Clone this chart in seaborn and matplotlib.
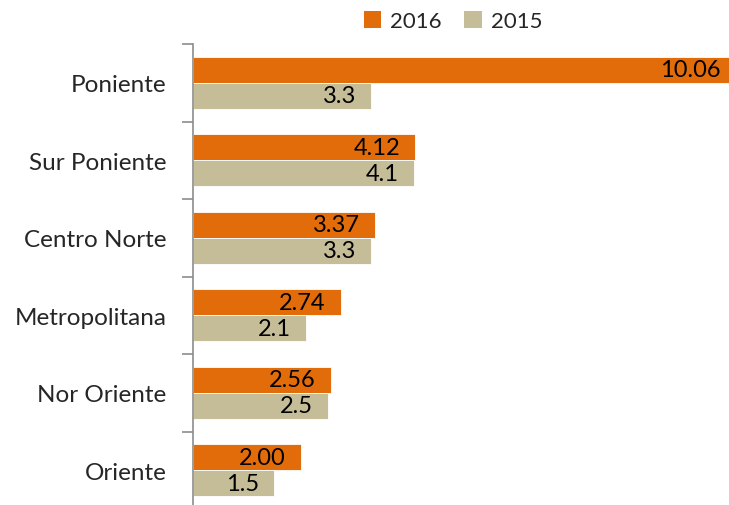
import matplotlib
matplotlib.use("Agg")
import matplotlib.pyplot as plt
import seaborn as sns
import pandas as pd
from matplotlib.ticker import FixedLocator
from matplotlib.patches import Patch

categories = ["Poniente", "Sur Poniente", "Centro Norte", "Metropolitana", "Nor Oriente", "Oriente"]
values_2016 = [10.06, 4.12, 3.37, 2.74, 2.56, 2.00]
values_2015 = [3.3, 4.1, 3.3, 2.1, 2.5, 1.5]
labels_2016 = ["10.06", "4.12", "3.37", "2.74", "2.56", "2.00"]
labels_2015 = ["3.3", "4.1", "3.3", "2.1", "2.5", "1.5"]
series = ["2016", "2015"]
colors = {"2016": "#E36C0A", "2015": "#C4BD97"}

df = pd.DataFrame({
    "cat": categories * 2,
    "val": values_2016 + values_2015,
    "year": ["2016"] * len(categories) + ["2015"] * len(categories),
})

sns.set_style("white")
plt.rcParams["font.family"] = ["Lato", "DejaVu Sans"]

fig = plt.figure(figsize=(7.29, 5.06), dpi=100)
ax = fig.add_axes([193 / 729, 1 - 510 / 506, 1 - 193 / 729, (510 - 45) / 506])

sns.barplot(data=df, x="val", y="cat", hue="year", hue_order=series, order=categories,
            palette=colors, orient="h", width=0.67, ax=ax, legend=False,
            saturation=1, edgecolor="white", linewidth=0.6)

ax.set_xlim(0, 9.93)
ax.set_ylim(len(categories) - 0.5, -0.5)
ax.set_xlabel("")
ax.set_ylabel("")
ax.set_xticks([])
for s in ["top", "right", "bottom"]:
    ax.spines[s].set_visible(False)
ax.spines["left"].set_color("#8C8C8C")
ax.spines["left"].set_linewidth(1.2)

ax.tick_params(axis="y", which="major", left=True, length=0, pad=19, labelsize=17.5)
ax.yaxis.set_minor_locator(FixedLocator([i - 0.5 for i in range(len(categories) + 1)]))
ax.tick_params(axis="y", which="minor", left=True, length=8, color="#8C8C8C", width=1.2,
               direction="out")

# value labels inside bar ends
for cont, labs in zip(ax.containers, [labels_2016, labels_2015]):
    for bar, lab in zip(cont, labs):
        w = bar.get_width()
        yc = bar.get_y() + bar.get_height() / 2
        ax.annotate(lab, xy=(w, yc), xytext=(-11, 0), textcoords="offset points",
                    ha="right", va="center", fontsize=17, color="black",
                    annotation_clip=False)

handles = [Patch(facecolor=colors[s], edgecolor="none") for s in series]
fig.legend(handles, series, loc="center", bbox_to_anchor=(453 / 729, 1 - 22 / 506),
           ncol=2, frameon=False, fontsize=16, handlelength=0.8, handleheight=0.8,
           handletextpad=0.4, columnspacing=1.0)

fig.savefig("out.png", dpi=100)
